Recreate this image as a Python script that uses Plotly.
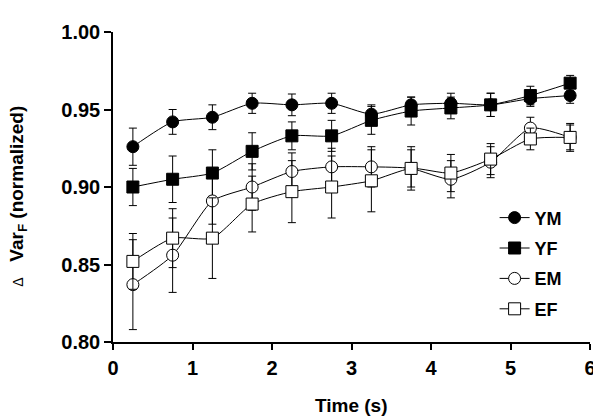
import plotly.graph_objects as go

time_s = [0.25, 0.75, 1.25, 1.75, 2.25, 2.75, 3.25, 3.75, 4.25, 4.75, 5.25, 5.75]

ym = [0.926, 0.942, 0.945, 0.954, 0.953, 0.954, 0.947, 0.953, 0.954, 0.953, 0.957, 0.959]
ym_err = [0.012, 0.008, 0.008, 0.0065, 0.007, 0.0065, 0.006, 0.005, 0.0065, 0.0075, 0.005, 0.005]

yf = [0.900, 0.905, 0.909, 0.923, 0.933, 0.933, 0.943, 0.949, 0.951, 0.953, 0.959, 0.967]
yf_err = [0.012, 0.015, 0.015, 0.012, 0.009, 0.010, 0.009, 0.009, 0.007, 0.0075, 0.006, 0.005]

em = [0.837, 0.856, 0.891, 0.900, 0.910, 0.913, 0.913, 0.912, 0.905, 0.916, 0.938, 0.932]
em_err = [0.029, 0.024, 0.015, 0.015, 0.012, 0.012, 0.013, 0.012, 0.012, 0.010, 0.007, 0.009]

ef = [0.852, 0.867, 0.867, 0.889, 0.897, 0.900, 0.904, 0.912, 0.909, 0.918, 0.931, 0.932]
ef_err = [0.018, 0.019, 0.026, 0.018, 0.020, 0.020, 0.020, 0.014, 0.012, 0.010, 0.007, 0.008]

x_ticks = [0, 1, 2, 3, 4, 5, 6]
y_ticks = [0.80, 0.85, 0.90, 0.95, 1.00]
y_tick_text = ["0.80", "0.85", "0.90", "0.95", "1.00"]

series = [
    ("YM", ym, ym_err, "circle", "black"),
    ("YF", yf, yf_err, "square", "black"),
    ("EM", em, em_err, "circle", "white"),
    ("EF", ef, ef_err, "square", "white"),
]

fig = go.Figure()
for name, vals, errs, sym, fill in series:
    fig.add_trace(go.Scatter(
        x=time_s, y=vals, name=name, legendgroup=name, mode="lines+markers",
        line=dict(color="black", width=1, shape="spline", smoothing=0.6),
        marker=dict(symbol=sym, size=12, color=fill, line=dict(color="black", width=1)),
        error_y=dict(type="data", array=errs, color="black", thickness=1, width=4),
    ))

font_family = "Liberation Sans, Arial, sans-serif"

fig.update_layout(
    width=601, height=420, autosize=False,
    margin=dict(l=105, r=19, t=24, b=86),
    plot_bgcolor="white", paper_bgcolor="white",
    font=dict(family=font_family, color="black"),
    xaxis=dict(
        range=[0, 6], tickvals=x_ticks, showline=True, linecolor="black", linewidth=1.5,
        ticks="outside", ticklen=6, tickwidth=1.5, tickcolor="black",
        showgrid=False, zeroline=False, ticklabelstandoff=1,
        tickfont=dict(size=20, family=font_family, weight="bold"),
    ),
    yaxis=dict(
        range=[0.80, 1.00], tickvals=y_ticks, ticktext=y_tick_text, showline=True,
        linecolor="black", linewidth=1.5, ticks="outside", ticklen=7, tickwidth=1.5,
        tickcolor="black", showgrid=False, zeroline=False,
        tickfont=dict(size=20, family=font_family, weight="bold"),
    ),
    legend=dict(
        x=0.80, y=0.46, xanchor="left", yanchor="top",
        font=dict(size=18, family=font_family, weight="bold"),
        bgcolor="rgba(0,0,0,0)", itemwidth=30, tracegroupgap=4,
    ),
    annotations=[
        dict(
            text="<span style='font-size:14px;font-weight:normal'>Δ</span>&nbsp;&nbsp;&nbsp;Var<sub>F</sub> (normalized)",
            xref="paper", yref="paper", x=-0.198, y=0.47, textangle=-90,
            showarrow=False, xanchor="center", yanchor="middle",
            font=dict(size=19, family=font_family, weight="bold"),
        ),
        dict(
            text="Time (s)", xref="paper", yref="paper", x=0.5, y=-0.205,
            showarrow=False, xanchor="center", yanchor="middle",
            font=dict(size=19, family=font_family, weight="bold"),
        ),
    ],
)

fig.write_html("out.html")
